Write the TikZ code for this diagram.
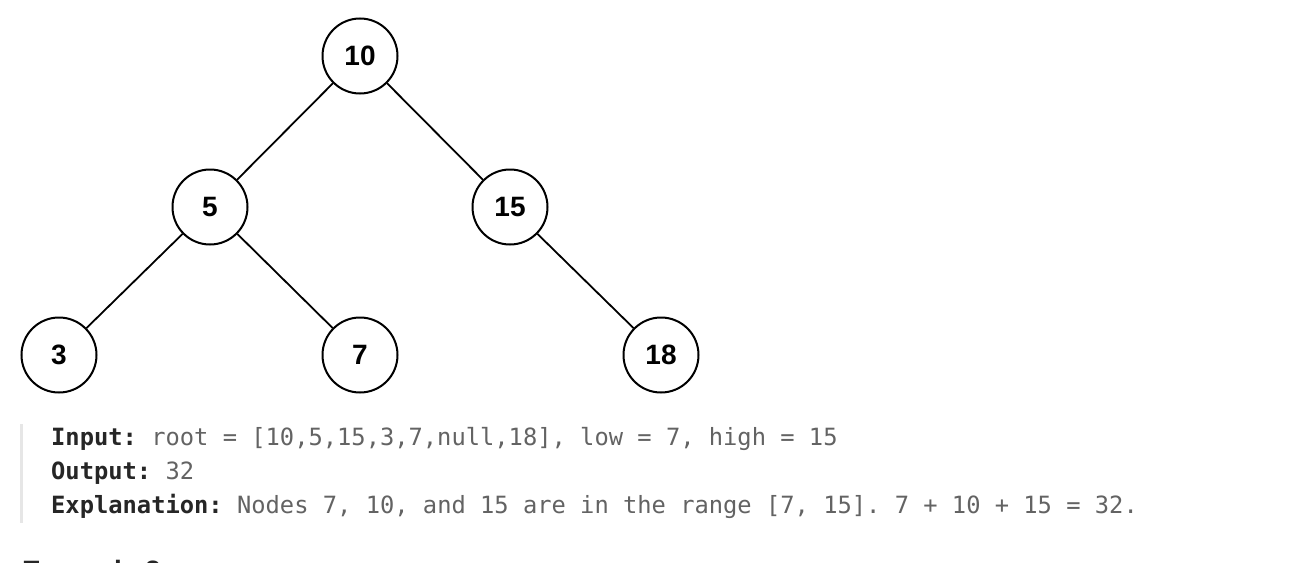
\documentclass[tikz,border=0pt]{standalone}
\usepackage{fontspec}
\setmainfont{Liberation Sans}
\newfontfamily\codefont{DejaVu Sans Mono}
\definecolor{codegray}{HTML}{636363}
\definecolor{labeldark}{HTML}{262626}
\definecolor{barcol}{HTML}{E6E6E6}
\frenchspacing
\begin{document}
\begin{tikzpicture}[x=1pt,y=-1pt,
  tnode/.style={circle,draw=black,line width=2pt,minimum size=75pt,inner sep=0pt,
    font=\fontsize{28}{32}\selectfont\bfseries},
  tedge/.style={line width=1.8pt,black},
  codeline/.style={anchor=base west,inner sep=0pt,font=\codefont\fontsize{23.75}{28}\selectfont\frenchspacing,text=codegray}]
\useasboundingbox[fill=white] (0,0) rectangle (1300,562);
\node[tnode] (n10) at (360,56) {10};
\node[tnode] (n5) at (210,207) {5};
\node[tnode] (n15) at (510,207) {15};
\node[tnode] (n3) at (59,355) {3};
\node[tnode] (n7) at (360,355) {7};
\node[tnode] (n18) at (661,355) {18};
\draw[tedge] (n10) -- (n5);
\draw[tedge] (n10) -- (n15);
\draw[tedge] (n5) -- (n3);
\draw[tedge] (n5) -- (n7);
\draw[tedge] (n15) -- (n18);
\fill[barcol] (20,424) rectangle (23,523);
\node[codeline] (l1) at (51,445) {\textcolor{labeldark}{\bfseries Input:} root = [10,5,15,3,7,null,18], low = 7, high = 15};
\node[codeline] (l2) at (51,479) {\textcolor{labeldark}{\bfseries Output:} 32};
\node[codeline] (l3) at (51,513) {\textcolor{labeldark}{\bfseries Explanation:} Nodes 7, 10, and 15 are in the range [7, 15]. 7 + 10 + 15 = 32.};
\node[anchor=base west,inner sep=0pt,font=\fontsize{28}{32}\selectfont\bfseries,text=labeldark] (ex2) at (22,580) {Example 2:};
\end{tikzpicture}
\end{document}
